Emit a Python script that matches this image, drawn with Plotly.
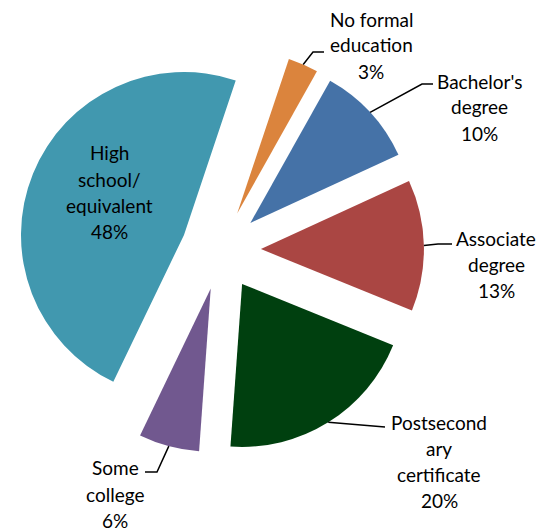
import math
import plotly.graph_objects as go

categories = ["No formal education", "Bachelor's degree", "Associate degree",
              "Postsecondary certificate", "Some college", "High school/equivalent"]
values = [3, 10, 13, 20, 6, 48]
label_lines = [["No formal", "education", "3%"],
               ["Bachelor's", "degree", "10%"],
               ["Associate", "degree", "13%"],
               ["Postsecond", "ary", "certificate", "20%"],
               ["Some", "college", "6%"],
               ["High", "school/", "equivalent", "48%"]]
colors = ["#DB843D", "#4572A7", "#AA4643", "#00400F", "#71588F", "#4198AF"]

# page is offset by the default 8px body margin
OFF = 8
W, H = 551 - OFF, 529 - OFF
ROT = 18.5
PULL = 0.245
CXp, CYp, R = 221, 250, 163  # page-pixel centre and radius
BOX = 2 * R * (1 + PULL)
CX, CY = CXp - OFF, CYp - OFF

dom_x = [(CX - BOX / 2) / W, (CX + BOX / 2) / W]
dom_y = [1 - (CY + BOX / 2) / H, 1 - (CY - BOX / 2) / H]

fig = go.Figure(go.Pie(
    labels=categories, values=values, sort=False, direction="clockwise",
    rotation=ROT, pull=[PULL] * len(values),
    marker=dict(colors=colors, line=dict(width=0)),
    textinfo="none", hoverinfo="label+percent",
    domain=dict(x=dom_x, y=dom_y), showlegend=False,
))

total = sum(values)
mid_angles = []
cum = 0
for v in values:
    mid_angles.append(ROT + 360 * (cum + v / 2) / total)
    cum += v


def arc_point(i):
    t = math.radians(mid_angles[i])
    d = (1 + PULL) * R
    return CXp + d * math.sin(t), CYp - d * math.cos(t)


def px(x, y):
    return (x - OFF) / W, 1 - (y - OFF) / H

# label placement (page pixels): centre x and y of each line
label_x = [371, 479, 496, 439, 115, 109]
label_y = [[19, 45, 71], [81, 107, 133], [238, 264, 290],
           [422, 448, 474, 500], [467, 494, 520], [153, 179, 205, 231]]
# leader-line elbow / end points (page pixels), None for no leader
leaders = [[(313, 52), (324, 52)], [(422, 84), (433, 84)], [(438, 244), (452, 244)],
           [(385, 427)], [(157, 472), (145, 472)], None]

font = dict(family="Lato", size=19, color="#000000")
for i, lines in enumerate(label_lines):
    for txt, ly in zip(lines, label_y[i]):
        x, y = px(label_x[i], ly)
        fig.add_annotation(x=x, y=y, xref="paper", yref="paper", text=txt,
                           showarrow=False, font=font, align="center",
                           xanchor="center", yanchor="middle")
    if leaders[i]:
        pts = [arc_point(i)] + leaders[i]
        path = "M " + " L ".join(f"{px(a, b)[0]},{px(a, b)[1]}" for a, b in pts)
        fig.add_shape(type="path", path=path, xref="paper", yref="paper",
                      line=dict(color="#000000", width=1.5))

fig.update_layout(width=W, height=H, margin=dict(l=0, r=0, t=0, b=0),
                  paper_bgcolor="white", plot_bgcolor="white")
fig.write_html("out.html")
